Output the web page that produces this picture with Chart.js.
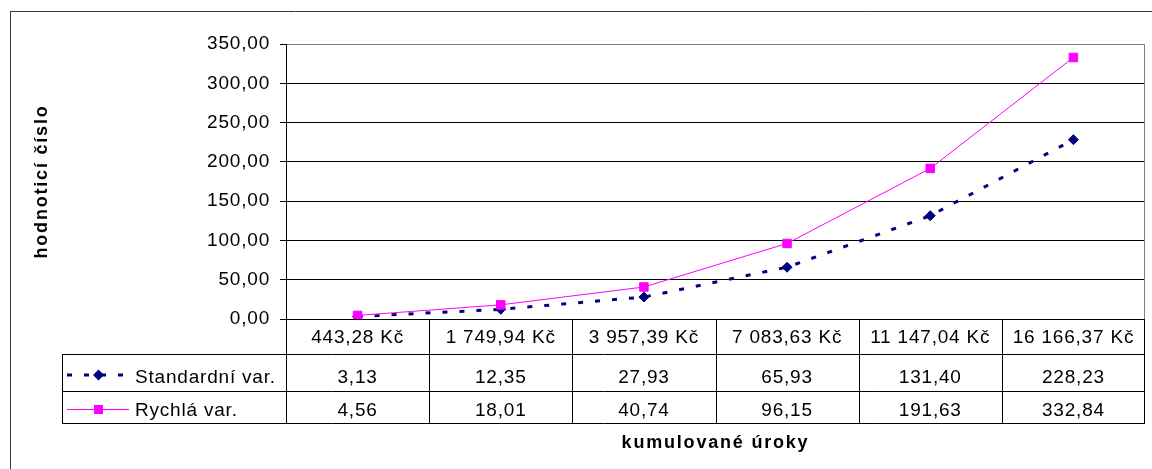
<!DOCTYPE html>
<html>
<head>
<meta charset="utf-8">
<script src="https://cdn.jsdelivr.net/npm/chart.js@4/dist/chart.umd.min.js"></script>
<style>
  html, body { margin: 0; padding: 0; background: #fff; }
  canvas { display: block; }
</style>
</head>
<body>
<canvas id="chart" width="1152" height="469"></canvas>
<script>
// Category labels (cumulative interest) and the two series
const categories = ['443,28 Kč', '1 749,94 Kč', '3 957,39 Kč', '7 083,63 Kč', '11 147,04 Kč', '16 166,37 Kč'];
const standardValues = [3.13, 12.35, 27.93, 65.93, 131.40, 228.23];
const rychlaValues = [4.56, 18.01, 40.74, 96.15, 191.63, 332.84];
const seriesNames = ['Standardní var.', 'Rychlá var.'];
const yMin = 0;
const yMax = 350;
const yStep = 50;
const xTitle = 'kumulované úroky';
const yTitle = 'hodnoticí číslo';

const FONT = '"Liberation Sans", Arial, sans-serif';
const NAVY = '#000080';
const MAGENTA = '#FF00FF';
const fmt = v => v.toFixed(2).replace('.', ',');

// Row geometry of the data table under the plot
const TABLE_LEFT = 62;
const CAT_BOTTOM = 354;
const ROW1_BOTTOM = 391;
const ROW2_BOTTOM = 423;

function hLine(ctx, x1, x2, y, color) {
  ctx.strokeStyle = color;
  ctx.beginPath();
  ctx.moveTo(x1, y + 0.5);
  ctx.lineTo(x2, y + 0.5);
  ctx.stroke();
}
function vLine(ctx, x, y1, y2, color) {
  ctx.strokeStyle = color;
  ctx.beginPath();
  ctx.moveTo(x + 0.5, y1);
  ctx.lineTo(x + 0.5, y2);
  ctx.stroke();
}
function diamond(ctx, x, y, r, color) {
  ctx.fillStyle = color;
  ctx.beginPath();
  ctx.moveTo(x, y - r);
  ctx.lineTo(x + r, y);
  ctx.lineTo(x, y + r);
  ctx.lineTo(x - r, y);
  ctx.closePath();
  ctx.fill();
}
function square(ctx, x, y, h, color) {
  ctx.fillStyle = color;
  ctx.fillRect(x - h, y - h, 2 * h, 2 * h);
}

const tablePlugin = {
  id: 'dataTable',
  beforeDraw(chart) {
    const ctx = chart.ctx;
    ctx.save();
    ctx.fillStyle = '#fff';
    ctx.fillRect(0, 0, chart.width, chart.height);
    ctx.restore();
    if ('letterSpacing' in ctx) ctx.letterSpacing = '0.8px';
  },
  afterDraw(chart) {
    const ctx = chart.ctx;
    const a = chart.chartArea;
    const xs = chart.scales.x;
    const n = categories.length;
    const colW = (a.right - a.left) / n;
    const left = Math.round(a.left);
    const right = Math.round(a.right) - 1;
    const top = Math.round(a.top);
    const bottom = Math.round(a.bottom);

    ctx.save();
    ctx.lineWidth = 1;
    ctx.setLineDash([]);

    // chart frame
    hLine(ctx, 10, chart.width, 11, '#3a3a3a');
    vLine(ctx, 10, 11, chart.height, '#3a3a3a');

    // plot-area border on the right
    vLine(ctx, right, top, bottom, '#808080');

    // table grid
    vLine(ctx, left, bottom, ROW2_BOTTOM + 1, '#000');
    vLine(ctx, right, bottom, ROW2_BOTTOM + 1, '#000');
    for (let i = 1; i < n; i++) {
      const bx = Math.round(xs.getPixelForValue(i) - colW / 2);
      vLine(ctx, bx, bottom, ROW2_BOTTOM + 1, '#000');
    }
    hLine(ctx, TABLE_LEFT, right + 1, CAT_BOTTOM, '#000');
    hLine(ctx, TABLE_LEFT, right + 1, ROW1_BOTTOM, '#000');
    hLine(ctx, TABLE_LEFT, right + 1, ROW2_BOTTOM, '#000');
    vLine(ctx, TABLE_LEFT, CAT_BOTTOM, ROW2_BOTTOM + 1, '#000');

    // cell text
    if ('letterSpacing' in ctx) ctx.letterSpacing = '0.8px';
    ctx.font = '19px ' + FONT;
    ctx.fillStyle = '#000';
    ctx.textAlign = 'center';
    ctx.textBaseline = 'alphabetic';
    const rows = [standardValues, rychlaValues];
    const baselines = [383, 416];
    for (let i = 0; i < n; i++) {
      const cx = xs.getPixelForValue(i);
      ctx.fillText(categories[i], cx, 343);
      rows.forEach((vals, r) => ctx.fillText(fmt(vals[i]), cx, baselines[r]));
    }

    // series keys
    ctx.textAlign = 'left';
    ctx.fillText(seriesNames[0], 135, 383);
    ctx.fillText(seriesNames[1], 135, 416);

    ctx.strokeStyle = NAVY;
    ctx.lineWidth = 3;
    ctx.setLineDash([5, 12]);
    ctx.beginPath();
    ctx.moveTo(67, 375);
    ctx.lineTo(129, 375);
    ctx.stroke();
    ctx.setLineDash([]);
    diamond(ctx, 98.5, 375, 5.5, NAVY);

    ctx.strokeStyle = MAGENTA;
    ctx.lineWidth = 1;
    ctx.beginPath();
    ctx.moveTo(67, 409.5);
    ctx.lineTo(129, 409.5);
    ctx.stroke();
    square(ctx, 98.5, 409.5, 4.5, MAGENTA);

    // axis titles
    ctx.fillStyle = '#000';
    ctx.font = 'bold 18px ' + FONT;
    ctx.textAlign = 'center';
    if ('letterSpacing' in ctx) ctx.letterSpacing = '1.8px';
    ctx.fillText(xTitle, (a.left + a.right) / 2, 448);
    ctx.translate(47, (a.top + a.bottom) / 2);
    ctx.rotate(-Math.PI / 2);
    ctx.fillText(yTitle, 0, 0);
    ctx.restore();
  }
};

new Chart(document.getElementById('chart'), {
  type: 'line',
  data: {
    labels: categories,
    datasets: [
      {
        label: seriesNames[0],
        data: standardValues,
        borderColor: NAVY,
        backgroundColor: NAVY,
        borderWidth: 3,
        borderDash: [5, 12],
        pointStyle: 'rectRot',
        pointRadius: 5,
        pointBorderWidth: 1,
        pointBackgroundColor: NAVY,
        pointBorderColor: NAVY,
        tension: 0,
        order: 1
      },
      {
        label: seriesNames[1],
        data: rychlaValues,
        borderColor: MAGENTA,
        backgroundColor: MAGENTA,
        borderWidth: 1,
        pointStyle: 'rect',
        pointRadius: 6,
        pointBorderWidth: 1,
        pointBackgroundColor: MAGENTA,
        pointBorderColor: MAGENTA,
        tension: 0,
        order: 0
      }
    ]
  },
  options: {
    responsive: false,
    devicePixelRatio: 1,
    animation: false,
    events: [],
    layout: { padding: { left: 0, top: 44, right: 0, bottom: 0 } },
    plugins: {
      legend: { display: false },
      tooltip: { enabled: false },
      title: { display: false }
    },
    scales: {
      x: {
        type: 'category',
        offset: true,
        ticks: { display: false },
        grid: { display: false, drawTicks: false },
        border: { display: false },
        afterFit(s) { s.height = 150; }
      },
      y: {
        min: yMin,
        max: yMax,
        ticks: {
          stepSize: yStep,
          padding: 10,
          color: '#000',
          font: { family: FONT, size: 19 },
          callback: v => fmt(v)
        },
        grid: {
          color: c => (c.tick && c.tick.value === yMax) ? '#808080' : '#000',
          lineWidth: 1,
          drawTicks: true,
          tickLength: 6,
          tickColor: '#000'
        },
        border: { display: true, color: '#000', width: 1 },
        afterFit(s) { s.width = 286; }
      }
    }
  },
  plugins: [tablePlugin]
});
</script>
</body>
</html>
